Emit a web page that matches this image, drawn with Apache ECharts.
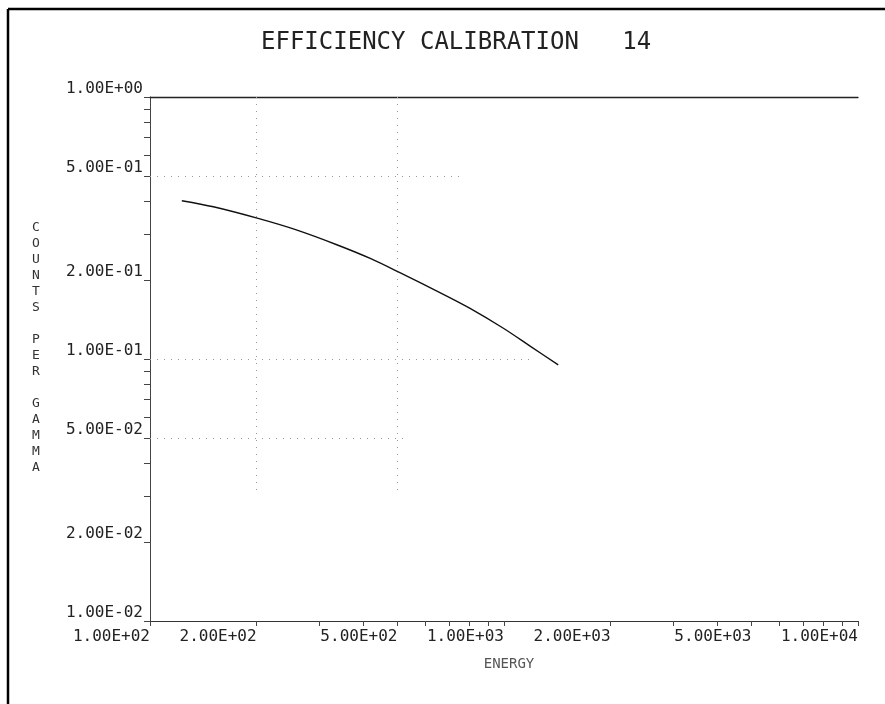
<!DOCTYPE html>
<html>
<head>
<meta charset="utf-8">
<script src="https://cdn.jsdelivr.net/npm/echarts@6/dist/echarts.min.js"></script>
<style>
html,body{margin:0;padding:0;background:#fff;}
#chart{width:885px;height:704px;}
</style>
</head>
<body>
<div id="chart"></div>
<script>
// Curve (energy, counts per gamma)
const energy = [123, 151, 202, 259, 337, 419, 508, 674, 802, 996, 1185, 1423];
const countsPerGamma = [0.402, 0.381, 0.344, 0.311, 0.273, 0.242, 0.2135, 0.1765, 0.156, 0.131, 0.112, 0.0949];

// Labelled tick values
const xLabelValues = [100, 200, 500, 1000, 2000, 5000, 10000];
const yLabelValues = [0.01, 0.02, 0.05, 0.1, 0.2, 0.5, 1];
// All tick marks
const xTickValues = [100, 200, 300, 400, 500, 600, 700, 800, 900,
  1000, 2000, 3000, 4000, 5000, 6000, 7000, 8000, 9000, 10000];
const yTickValues = [0.01, 0.02, 0.03, 0.04, 0.05, 0.06, 0.07, 0.08, 0.09,
  0.1, 0.2, 0.3, 0.4, 0.5, 0.6, 0.7, 0.8, 0.9, 1];

const titleText = 'EFFICIENCY CALIBRATION   14';
const xName = 'ENERGY';
const yName = 'COUNTS PER GAMMA';

function sci(v) {
  const e = Math.floor(Math.log10(v) + 1e-9);
  const m = v / Math.pow(10, e);
  const sign = e < 0 ? '-' : '+';
  const ae = Math.abs(e);
  return m.toFixed(2) + 'E' + sign + (ae < 10 ? '0' : '') + ae;
}

const FONT = 'DejaVu Sans Mono';
const chart = echarts.init(document.getElementById('chart'));
const data = energy.map((x, i) => [x, countsPerGamma[i]]);

chart.setOption({
  animation: false,
  title: {
    text: titleText,
    left: 256, top: 26,
    textStyle: {fontFamily: FONT, fontSize: 24, fontWeight: 'normal', color: '#222'}
  },
  grid: {left: 150, right: 27, top: 97, bottom: 83},
  xAxis: [{
    type: 'log', logBase: 10, min: 100, max: 10000,
    name: xName, nameLocation: 'middle', nameGap: 36,
    nameTextStyle: {fontFamily: FONT, fontSize: 14, color: '#555', padding: [0, 0, 0, 10]},
    axisLine: {lineStyle: {color: '#333', width: 1}},
    axisTick: {show: true, length: 5, customValues: xTickValues, lineStyle: {color: '#444'}},
    minorTick: {show: false},
    axisLabel: {
      customValues: xLabelValues, align: 'right', margin: 8,
      fontFamily: FONT, fontSize: 16, color: '#222',
      showMinLabel: true, showMaxLabel: true, hideOverlap: false,
      formatter: v => sci(v)
    },
    splitLine: {show: false}
  }, {
    type: 'log', logBase: 10, min: 100, max: 10000, position: 'top',
    axisLine: {lineStyle: {color: '#222', width: 1.3}},
    axisTick: {show: false}, axisLabel: {show: false}, splitLine: {show: false}
  }],
  yAxis: {
    type: 'log', logBase: 10, min: 0.01, max: 1,
    axisLine: {lineStyle: {color: '#444', width: 1}},
    axisTick: {show: true, length: 6, customValues: yTickValues, lineStyle: {color: '#444'}},
    axisLabel: {
      customValues: yLabelValues, margin: 7, verticalAlign: 'bottom', lineHeight: 16,
      fontFamily: FONT, fontSize: 16, color: '#222',
      showMinLabel: true, showMaxLabel: true, hideOverlap: false,
      formatter: v => sci(v)
    },
    splitLine: {show: false}
  },
  graphic: [
    {type: 'line', shape: {x1: 8, y1: 9, x2: 885, y2: 9}, style: {stroke: '#000', lineWidth: 2.5}, silent: true},
    {type: 'line', shape: {x1: 8, y1: 9, x2: 8, y2: 704}, style: {stroke: '#000', lineWidth: 2.5}, silent: true},
    {type: 'text', left: 32, top: 220, silent: true,
      style: {text: yName.split('').join('\n'), font: '13px "DejaVu Sans Mono"', lineHeight: 16, fill: '#333', align: 'center'}}
  ],
  series: [{
    type: 'line', data: data, smooth: 0.3, symbol: 'none',
    lineStyle: {color: '#111', width: 1.4},
    markLine: {
      silent: true, symbol: 'none', label: {show: false},
      lineStyle: {type: [1, 6], color: '#999', width: 1},
      data: [
        [{coord: [200, 1]}, {coord: [200, 0.03]}],
        [{coord: [500, 1]}, {coord: [500, 0.03]}],
        [{coord: [100, 0.5]}, {coord: [750, 0.5]}],
        [{coord: [100, 0.1]}, {coord: [1200, 0.1]}],
        [{coord: [100, 0.05]}, {coord: [520, 0.05]}]
      ]
    }
  }]
});
</script>
</body>
</html>
